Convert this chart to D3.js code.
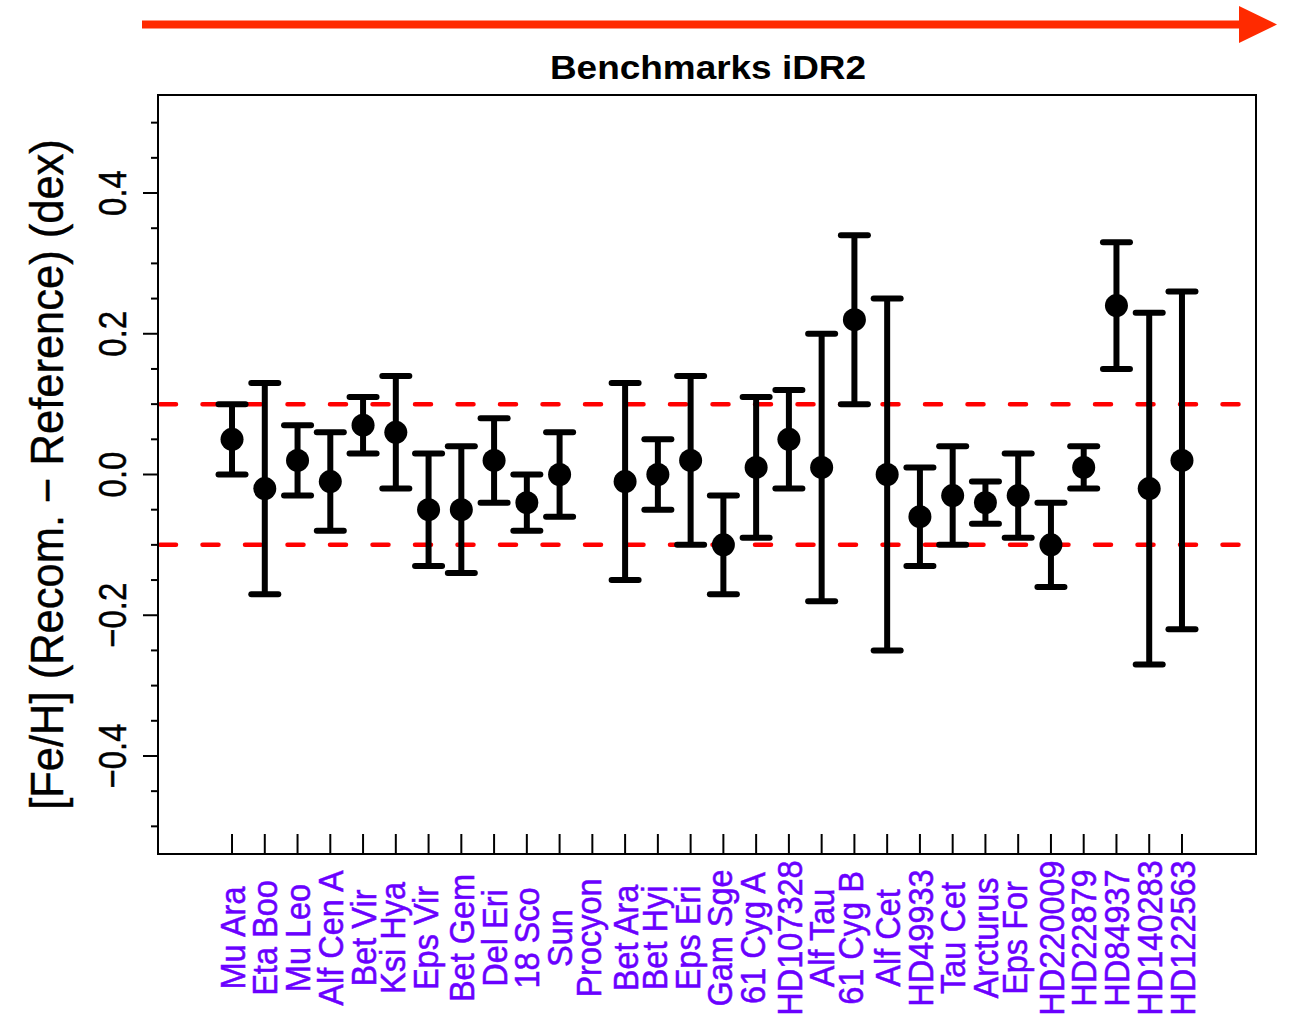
<!DOCTYPE html>
<html>
<head>
<meta charset="utf-8">
<script src="https://cdn.jsdelivr.net/npm/d3@7"></script>
<style>
  html, body { margin: 0; padding: 0; background: #fff; }
  svg { display: block; }
  text { font-family: "Liberation Sans", Arial, Helvetica, sans-serif; }
</style>
</head>
<body>
<script>
// ---- data ----
const stars = ["Mu Ara","Eta Boo","Mu Leo","Alf Cen A","Bet Vir","Ksi Hya","Eps Vir","Bet Gem","Del Eri","18 Sco","Sun","Procyon","Bet Ara","Bet Hyi","Eps Eri","Gam Sge","61 Cyg A","HD107328","Alf Tau","61 Cyg B","Alf Cet","HD49933","Tau Cet","Arcturus","Eps For","HD220009","HD22879","HD84937","HD140283","HD122563"];
const feh   = [0.05,-0.02,0.02,-0.01,0.07,0.06,-0.05,-0.05,0.02,-0.04,0.00,null,-0.01,0.00,0.02,-0.10,0.01,0.05,0.01,0.22,0.00,-0.06,-0.03,-0.04,-0.03,-0.10,0.01,0.24,-0.02,0.02];
const upper = [0.10,0.13,0.07,0.06,0.11,0.14,0.03,0.04,0.08,0.00,0.06,null,0.13,0.05,0.14,-0.03,0.11,0.12,0.20,0.34,0.25,0.01,0.04,-0.01,0.03,-0.04,0.04,0.33,0.23,0.26];
const lower = [0.00,-0.17,-0.03,-0.08,0.03,-0.02,-0.13,-0.14,-0.04,-0.08,-0.06,null,-0.15,-0.05,-0.10,-0.17,-0.09,-0.02,-0.18,0.10,-0.25,-0.13,-0.10,-0.07,-0.09,-0.16,-0.02,0.15,-0.27,-0.22];
const yTickValues = [-0.5,-0.45,-0.4,-0.35,-0.3,-0.25,-0.2,-0.15,-0.1,-0.05,0,0.05,0.1,0.15,0.2,0.25,0.3,0.35,0.4,0.45,0.5];
const yTickLabels = ["−0.4","−0.2","0.0","0.2","0.4"];
const yLabelValues = [-0.4,-0.2,0,0.2,0.4];
const refLines = [-0.1, 0.1];
const title = "Benchmarks iDR2";
const yTitle = "[Fe/H] (Recom. − Reference) (dex)";

// ---- layout ----
const W = 1291, H = 1017;
const L = 158, R = 1256, T = 95, B = 854;
const SX = 1.2;   // horizontal glyph stretch (tick labels)
const SXL = 1.08; // stretch for category labels
const FL = 32.5;  // category label font size

const svg = d3.select("body").append("svg").attr("width", W).attr("height", H);

const x = d3.scaleLinear().domain([1 - 2.26, stars.length + 2.26]).range([L, R]);
const y = d3.scaleLinear().domain([-0.5393, 0.5393]).range([B, T]);

// arrow
svg.append("line").attr("x1", 142).attr("x2", 1243).attr("y1", 24.5).attr("y2", 24.5)
  .attr("stroke", "#ff2a00").attr("stroke-width", 8);
svg.append("polygon").attr("points", "1239,6 1277,24.5 1239,43").attr("fill", "#ff2a00");

// title
svg.append("text").attr("transform", `translate(708,79) scale(1.12,1)`)
  .attr("text-anchor", "middle").attr("font-size", 33).attr("font-weight", "bold")
  .attr("fill", "#000").text(title);

// reference dashed lines
svg.selectAll(".ref").data(refLines).enter().append("line")
  .attr("x1", L + 2).attr("x2", R - 2)
  .attr("y1", d => y(d)).attr("y2", d => y(d))
  .attr("stroke", "#ff0000").attr("stroke-width", 4.5)
  .attr("stroke-dasharray", "16,26.5").attr("stroke-linecap", "round");

// error bars
const idx = stars.map((s, i) => i).filter(i => feh[i] !== null);
const g = svg.append("g");
g.selectAll(".eb").data(idx).enter().append("line")
  .attr("x1", i => x(i + 1)).attr("x2", i => x(i + 1))
  .attr("y1", i => y(lower[i])).attr("y2", i => y(upper[i]))
  .attr("stroke", "#000").attr("stroke-width", 6);
["lo","hi"].forEach(k => {
  g.selectAll(".cap" + k).data(idx).enter().append("line")
    .attr("x1", i => x(i + 1) - 13.5).attr("x2", i => x(i + 1) + 13.5)
    .attr("y1", i => y(k === "lo" ? lower[i] : upper[i]))
    .attr("y2", i => y(k === "lo" ? lower[i] : upper[i]))
    .attr("stroke", "#000").attr("stroke-width", 6).attr("stroke-linecap", "round");
});
g.selectAll(".pt").data(idx).enter().append("circle")
  .attr("cx", i => x(i + 1)).attr("cy", i => y(feh[i])).attr("r", 11.5).attr("fill", "#000");

// frame
svg.append("rect").attr("x", L).attr("y", T).attr("width", R - L).attr("height", B - T)
  .attr("fill", "none").attr("stroke", "#000").attr("stroke-width", 2);

// y axis ticks
svg.selectAll(".yt").data(yTickValues).enter().append("line")
  .attr("x1", d => yLabelValues.some(v => Math.abs(v - d) < 1e-9) ? L - 15 : L - 7)
  .attr("x2", L).attr("y1", d => y(d)).attr("y2", d => y(d))
  .attr("stroke", "#000").attr("stroke-width", 2);
svg.selectAll(".yl").data(yLabelValues).enter().append("text")
  .attr("transform", d => `translate(126,${y(d)}) scale(${SX},1) rotate(-90)`)
  .attr("text-anchor", "middle").attr("font-size", 33).attr("fill", "#000")
  .attr("stroke", "#000").attr("stroke-width", 0.4)
  .text((d, i) => yTickLabels[i]);

// y title
svg.append("text")
  .attr("transform", `translate(63,${(T + B) / 2}) scale(1.06,1) rotate(-90)`)
  .attr("text-anchor", "middle").attr("font-size", 43.5).attr("fill", "#000")
  .attr("stroke", "#000").attr("stroke-width", 0.4)
  .text(yTitle);

// x ticks (inside) and labels
svg.selectAll(".xt").data(stars).enter().append("line")
  .attr("x1", (d, i) => x(i + 1)).attr("x2", (d, i) => x(i + 1))
  .attr("y1", B - 20).attr("y2", B)
  .attr("stroke", "#000").attr("stroke-width", 2);
// ink box centred on the tick: top of glyphs ~0.72em above baseline, descenders 0.21em below
function labelBaseX(d, i) {
  const em = FL * SXL;
  const desc = /[gjpqy]/.test(d) ? 0.21 : 0;
  return x(i + 1) + em * (0.72 - desc) / 2;
}
svg.selectAll(".xl").data(stars).enter().append("text")
  .attr("transform", (d, i) => `translate(${labelBaseX(d, i)},938) scale(${SXL},1) rotate(-90)`)
  .attr("text-anchor", "middle").attr("font-size", FL).attr("fill", "#6a00ff")
  .attr("stroke", "#6a00ff").attr("stroke-width", 0.5)
  .text(d => d);
</script>
</body>
</html>
